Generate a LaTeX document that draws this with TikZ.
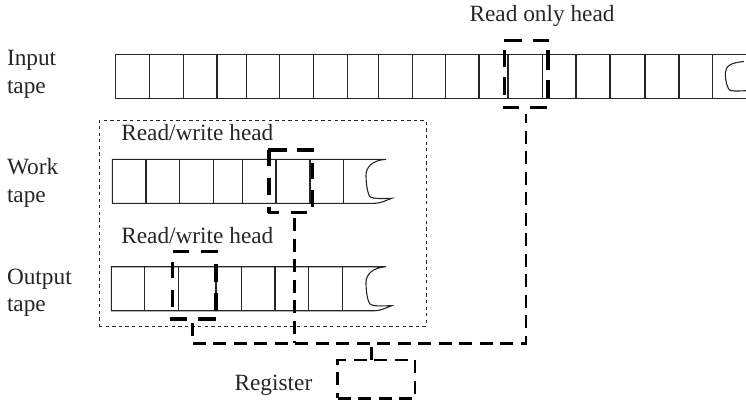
\documentclass[tikz,border=0pt]{standalone}
\usepackage{fontspec}
\setmainfont{Liberation Serif}
\usetikzlibrary{calc}
\begin{document}
\begin{tikzpicture}[x=1pt,y=-1pt,
  lbl/.style={font=\fontsize{23.3}{27.5}\selectfont, text=black!85, inner sep=0pt, outer sep=0pt},
  tape/.style={line width=1.1pt, draw=black!85, line join=miter},
  headnode/.style={inner sep=0pt, outer sep=0pt},
  hd/.style={draw=black, line width=3.4pt, line cap=butt},
  conn/.style={draw=black, line width=2.5pt, dash pattern=on 13pt off 7.5pt},
  regbox/.style={draw=black, line width=2.5pt, dash pattern=on 13pt off 7.5pt, inner sep=0pt, outer sep=0pt},
  framebox/.style={draw=black!85, line width=0.9pt, dash pattern=on 3.3pt off 3.3pt, inner sep=0pt, outer sep=0pt}]
\useasboundingbox (0,0) rectangle (746,404);

% ---- tapes ----
% input tape: T=54.3, B=98.7 (torn end cut by the picture edge)
\draw[tape] (750,98.7) -- (115.3,98.7) -- (115.3,54.3) -- (750,54.3);
\draw[tape] (744,61.5)
  .. controls (731,62.5) and (725.5,66) .. (725.3,73)
  .. controls (725.5,82) and (727.5,89.5) .. (730.5,90.5)
  .. controls (735.5,91.5) and (742,90.8) .. (750,90.5);
\foreach \x in {149.3,183.3,217,246.3,279.6,313.4,347.2,378.9,412.3,445.3,479,508,542.5,576,610,645,679,712.5}
  \draw[tape] (\x,54.3) -- (\x,98.7);

% work tape: T=159.3, B=203.3, xe=386
\draw[tape] (375,203.3) -- (112.3,203.3) -- (112.3,159.3) -- (386,159.3)
  .. controls (372,160.3) and (366,167.3) .. (366,175.3)
  .. controls (366,185.3) and (368,196.3) .. (371,197.3)
  .. controls (376,199.3) and (386,198.3) .. (391.7,198.3)
  .. controls (386,200.3) and (381,203.3) .. (375,203.3);
\foreach \x in {146,179.5,213.3,242.7,276,310,343.3}
  \draw[tape] (\x,159.3) -- (\x,203.3);

% output tape: T=266.7, B=310.7, xe=386
\draw[tape] (375,310.7) -- (111.3,310.7) -- (111.3,266.7) -- (386,266.7)
  .. controls (372,267.7) and (366,274.7) .. (366,282.7)
  .. controls (366,292.7) and (368,303.7) .. (371,304.7)
  .. controls (376,306.7) and (386,305.7) .. (391.7,305.7)
  .. controls (386,307.7) and (381,310.7) .. (375,310.7);
\foreach \x in {144.7,178.3,216,241.7,275,308.3,342.3}
  \draw[tape] (\x,266.7) -- (\x,310.7);

% ---- frame around work and output tapes ----
\node[framebox, minimum width=327pt, minimum height=205.3pt] (frame) at (262.5,223.35) {};

% ---- labels ----
\node[lbl, anchor=base west, align=left] (inlbl) at (7,93.3) {Input\\tape};
\node[lbl, anchor=base west, align=left] (wklbl) at (7,202.3) {Work\\tape};
\node[lbl, anchor=base west, align=left] (outlbl) at (7,311.7) {Output\\tape};
\node[lbl, anchor=base west] (rolbl) at (469.6,21.7) {Read only head};
\node[lbl, anchor=base west] (rw1lbl) at (121.3,140.7) {Read/write head};
\node[lbl, anchor=base west] (rw2lbl) at (121.3,243.3) {Read/write head};
\node[lbl, anchor=base west] (reglbl) at (234.6,390.7) {Register};

% ---- heads (anchors) ----
\node[headnode, minimum width=45pt, minimum height=67pt] (ih) at (526,74.2) {};
\node[headnode, minimum width=44pt, minimum height=62.7pt] (wh) at (291,181.35) {};
\node[headnode, minimum width=44pt, minimum height=67.3pt] (oh) at (194.2,285.35) {};

% input head outline
\draw[hd] (503.5,40.7) -- (521.7,40.7) (532.7,40.7) -- (549.3,40.7);
\draw[hd] (502.7,107.7) -- (519.3,107.7) (530,107.7) -- (547.3,107.7);
\draw[hd] (504.5,50) -- (504.5,66.7) (504.5,76.7) -- (504.5,95);
\draw[hd] (548,50) -- (548,70) (548,80) -- (548,98.3);
% work head outline
\draw[hd] (267.7,150) -- (286.7,150) (297.3,150) -- (314.3,150);
\draw[hd] (269,150) -- (269,166) (269,178.3) -- (269,195) (269,206.7) -- (269,212.7);
\draw[hd] (267.7,212.7) -- (279,212.7) (290.7,212.7) -- (307.3,212.7);
\draw[hd] (312.3,162.7) -- (312.3,179.3) (312.3,190) -- (312.3,206.7);
% output head outline
\draw[hd] (172.7,251.7) -- (189.3,251.7) (200.7,251.7) -- (218.3,251.7);
\draw[hd] (172.3,261.7) -- (172.3,278.3) (172.3,290) -- (172.3,307.3);
\draw[hd] (216,264.3) -- (216,281.7) (216,292.7) -- (216,310.7);
\draw[hd] (170,319) -- (187.3,319) (198.3,319) -- (216,319);

% ---- register ----
\node[regbox, minimum width=77.3pt, minimum height=38.3pt] (reg) at (376.35,379.15) {};

% ---- connectors ----
\coordinate (busy) at (0,343.3);
\coordinate (ihs) at ($(ih.south)+(0,6.5)$);
\coordinate (ohs) at ($(oh.south)+(-1.7,4)$);
\coordinate (whs) at ($(wh.south)+(3.5,5.5)$);
\coordinate (regn) at ($(reg.north)+(-4.7,0)$);
\draw[conn] (ohs) |- (busy -| ihs) -- (ihs);
\draw[conn] (whs) -- (whs |- busy);
\draw[conn] (regn) -- (regn |- busy);
\end{tikzpicture}
\end{document}
